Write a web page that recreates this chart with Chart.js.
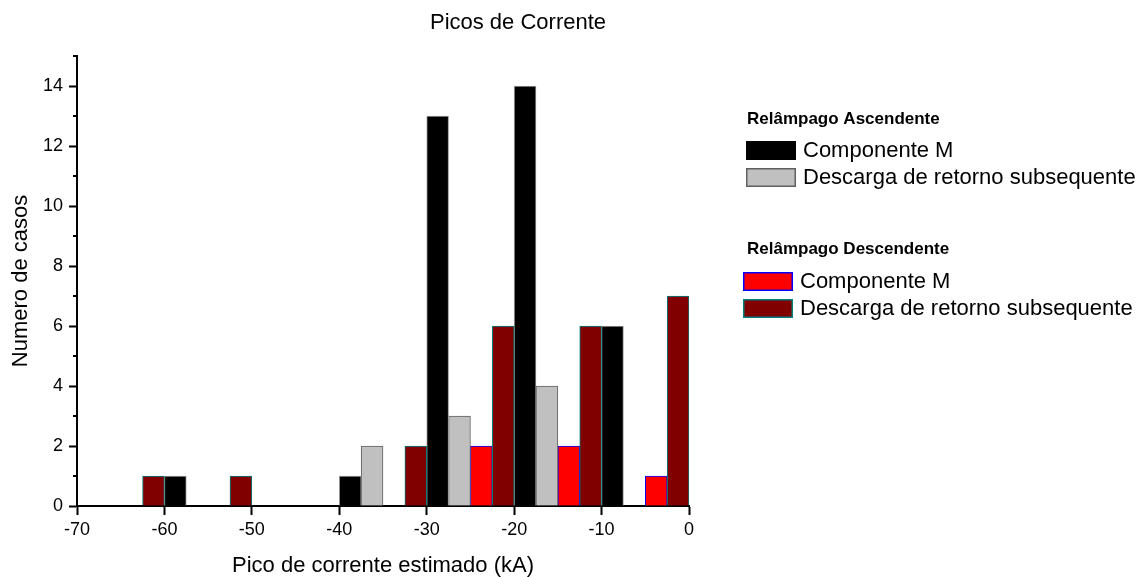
<!DOCTYPE html>
<html lang="pt">
<head>
  <meta charset="UTF-8">
  <title>Picos de Corrente</title>
  <script src="https://cdn.jsdelivr.net/npm/chart.js"></script>
  <style>
    html, body { margin: 0; padding: 0; background: #fff; }
    canvas { display: block; }
  </style>
</head>
<body>
  <canvas id="myChart" width="1146" height="577"></canvas>

  <script>
    // dados: contagens por faixa de 10 kA (centro da faixa)
    const binCenters = [-60, -50, -40, -30, -20, -10, 0];
    const ascM = [1, 0, 1, 13, 14, 6, 0];        // Relâmpago Ascendente - Componente M
    const ascSubseq = [0, 0, 2, 3, 4, 0, 0];     // Relâmpago Ascendente - Descarga de retorno subsequente
    const descM = [0, 0, 0, 2, 2, 1, 0];         // Relâmpago Descendente - Componente M
    const descSubseq = [1, 1, 0, 2, 6, 6, 7];    // Relâmpago Descendente - Descarga de retorno subsequente
    const xTicks = [-70, -60, -50, -40, -30, -20, -10, 0];
    const yTicks = [0, 2, 4, 6, 8, 10, 12, 14];
    const yMinorTicks = [1, 3, 5, 7, 9, 11, 13, 15];

    const FONT = "'Liberation Sans', Arial, sans-serif";

    // cada serie ocupa 2.5 kA dentro da faixa
    function toPoints(values, offset) {
      return binCenters.map((c, i) => ({ x: c + offset, y: values[i] === 0 ? null : values[i] }));
    }

    const series = [
      { label: 'Descarga de retorno subsequente', values: descSubseq, offset: -1.25, bg: '#800000', border: '#008080' },
      { label: 'Componente M', values: ascM, offset: 1.25, bg: '#000000', border: '#9a9a9a' },
      { label: 'Descarga de retorno subsequente', values: ascSubseq, offset: 3.75, bg: '#c0c0c0', border: '#606060' },
      { label: 'Componente M', values: descM, offset: 6.25, bg: '#ff0000', border: '#0000ff' }
    ];

    // titulo + legenda agrupada (desenhados a mao)
    const legendPlugin = {
      id: 'groupLegend',
      afterDraw(chart) {
        const ctx = chart.ctx;
        const groups = [
          { title: 'Relâmpago Ascendente', ty: 119, boxX: 746, textX: 803, rows: [
            { y: 141, label: 'Componente M', bg: '#000000', border: '#000000' },
            { y: 168, label: 'Descarga de retorno subsequente', bg: '#c0c0c0', border: '#606060' }
          ]},
          { title: 'Relâmpago Descendente', ty: 249, boxX: 743, textX: 800, rows: [
            { y: 272, label: 'Componente M', bg: '#ff0000', border: '#0000ff' },
            { y: 299, label: 'Descarga de retorno subsequente', bg: '#800000', border: '#008080' }
          ]}
        ];
        ctx.save();
        ctx.textBaseline = 'middle';
        ctx.fillStyle = '#000';
        ctx.textAlign = 'center';
        ctx.font = '22px ' + FONT;
        ctx.fillText('Picos de Corrente', 518, 23);
        ctx.textAlign = 'left';
        groups.forEach(g => {
          ctx.font = 'bold 17px ' + FONT;
          ctx.fillStyle = '#000';
          ctx.fillText(g.title, 747, g.ty);
          g.rows.forEach(r => {
            ctx.fillStyle = r.bg;
            ctx.fillRect(g.boxX, r.y, 50, 19);
            ctx.strokeStyle = r.border;
            ctx.lineWidth = 1.5;
            ctx.strokeRect(g.boxX + 0.75, r.y + 0.75, 48.5, 17.5);
            ctx.fillStyle = '#000';
            ctx.font = '22px ' + FONT;
            ctx.fillText(r.label, g.textX, r.y + 10);
          });
        });
        ctx.restore();
      }
    };

    // marcas menores do eixo y
    const minorTicksPlugin = {
      id: 'minorTicks',
      afterDraw(chart) {
        const y = chart.scales.y;
        const ctx = chart.ctx;
        ctx.save();
        ctx.strokeStyle = '#000';
        ctx.lineWidth = 2;
        yMinorTicks.forEach(v => {
          const py = Math.round(y.getPixelForValue(v));
          ctx.beginPath();
          ctx.moveTo(chart.chartArea.left, py);
          ctx.lineTo(chart.chartArea.left - 4, py);
          ctx.stroke();
        });
        ctx.restore();
      }
    };

    Chart.defaults.color = '#000';
    Chart.defaults.font.family = FONT;

    const ctx = document.getElementById('myChart').getContext('2d');
    new Chart(ctx, {
      type: 'bar',
      data: {
        datasets: series.map(s => ({
          label: s.label,
          data: toPoints(s.values, s.offset),
          backgroundColor: s.bg,
          borderColor: s.border,
          borderWidth: 1,
          grouped: false,
          barPercentage: 1,
          categoryPercentage: 1
        }))
      },
      options: {
        responsive: false,
        animation: false,
        layout: { padding: { left: 0, right: 457, top: 56, bottom: 0 } },
        scales: {
          x: {
            type: 'linear',
            min: -70,
            max: 0,
            offset: false,
            afterBuildTicks: s => { s.ticks = xTicks.map(v => ({ value: v })); },
            afterFit: s => { s.height = 71; },
            grid: { drawOnChartArea: false, offset: false, tickLength: 9, tickWidth: 2, tickColor: '#000' },
            border: { color: '#000', width: 2 },
            ticks: { font: { size: 18 }, padding: 4, maxRotation: 0 },
            title: { display: true, text: 'Pico de corrente estimado (kA)', font: { size: 22, lineHeight: 1 }, padding: { top: 0, bottom: 0 } }
          },
          y: {
            min: 0,
            max: 15,
            afterBuildTicks: s => { s.ticks = yTicks.map(v => ({ value: v })); },
            afterFit: s => { s.width = 77; },
            grid: { drawOnChartArea: false, tickLength: 8, tickWidth: 2, tickColor: '#000' },
            border: { color: '#000', width: 2 },
            ticks: { font: { size: 18 }, padding: 6 },
            title: { display: true, text: 'Numero de casos', font: { size: 22 }, padding: { top: 8, bottom: 0 } }
          }
        },
        plugins: {
          legend: { display: false },
          tooltip: { enabled: false },
          title: { display: false }
        }
      },
      plugins: [legendPlugin, minorTicksPlugin]
    });
  </script>
</body>
</html>
